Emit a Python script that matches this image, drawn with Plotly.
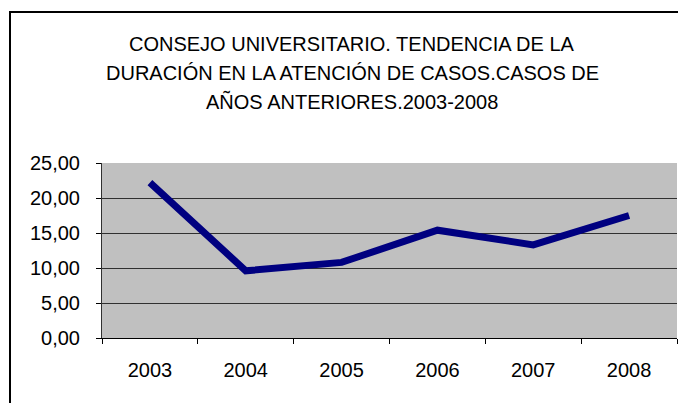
import plotly.graph_objects as go

anios = ["2003", "2004", "2005", "2006", "2007", "2008"]
duracion = [22.2, 9.6, 10.8, 15.4, 13.3, 17.5]
titulo = [
    "CONSEJO UNIVERSITARIO. TENDENCIA DE LA",
    "DURACIÓN EN LA ATENCIÓN DE CASOS.CASOS DE",
    "AÑOS ANTERIORES.2003-2008",
]
y_ticks = [0, 5, 10, 15, 20, 25]
y_labels = ["0,00", "5,00", "10,00", "15,00", "20,00", "25,00"]

FONT = "Liberation Sans, Arial, sans-serif"

fig = go.Figure()
fig.add_trace(go.Scatter(x=anios, y=duracion, mode="lines",
                         line=dict(color="#000080", width=7)))

# 3-line title with Excel-like spacing
for i, txt in enumerate(titulo):
    fig.add_annotation(text=txt, xref="paper", yref="paper",
                       x=(352 - 102) / 575, y=(338 - (44 + i * 28.5)) / 175,
                       showarrow=False, xanchor="center", yanchor="middle",
                       font=dict(family=FONT, size=20, color="black"))

# outer chart border
fig.add_shape(type="rect", xref="paper", yref="paper",
              x0=(10 - 102) / 575, x1=(692 - 102) / 575,
              y0=(338 - 410) / 175, y1=(338 - 12) / 175,
              line=dict(color="black", width=2), fillcolor="rgba(0,0,0,0)")

# the page body adds an 8px offset, so the figure is sized to fit after it
fig.update_layout(
    width=678, height=395,
    margin=dict(l=94, r=9, t=155, b=65),
    paper_bgcolor="white", plot_bgcolor="#C0C0C0",
    showlegend=False,
    font=dict(family=FONT, size=20, color="black"),
)
fig.update_xaxes(type="category", range=[-0.5, 5.5], tickson="boundaries",
                 ticks="outside", ticklen=5, tickcolor="black", showgrid=False,
                 showline=True, linecolor="black", linewidth=1,
                 ticklabelstandoff=14, zeroline=False)
fig.update_yaxes(range=[0, 25], tickvals=y_ticks, ticktext=y_labels,
                 ticks="outside", ticklen=5, tickcolor="black",
                 showgrid=True, gridcolor="#303030", gridwidth=1,
                 showline=True, linecolor="#303030", linewidth=1,
                 ticklabelstandoff=12, zeroline=False)

fig.write_html("out.html")
